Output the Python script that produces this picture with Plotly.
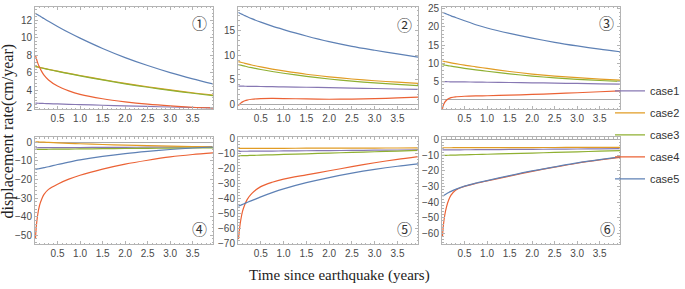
import plotly.graph_objects as go
from plotly.subplots import make_subplots

# time grid (years)
T = [0.01, 0.03, 0.06, 0.1, 0.15, 0.2, 0.3, 0.5, 0.75, 1.0, 1.5, 2.0, 2.5, 3.0, 3.5, 3.95]

case_names = ["case1", "case2", "case3", "case4", "case5"]
case_colors = ["#8778B3", "#E19C24", "#8FB032", "#EB6235", "#5E81B5"]

# Panel 1
p1_case1 = [2.50, 2.50, 2.49, 2.48, 2.47, 2.46, 2.44, 2.41, 2.37, 2.33, 2.26, 2.19, 2.12, 2.06, 2.00, 1.95]
p1_case2 = [6.70, 6.68, 6.65, 6.60, 6.54, 6.48, 6.37, 6.16, 5.90, 5.66, 5.19, 4.76, 4.37, 4.02, 3.69, 3.43]
p1_case3 = [6.68, 6.66, 6.63, 6.58, 6.52, 6.46, 6.35, 6.13, 5.87, 5.62, 5.15, 4.71, 4.32, 3.96, 3.63, 3.36]
p1_case4 = [8.0, 7.6, 7.1, 6.6, 6.1, 5.7, 5.15, 4.45, 3.9, 3.5, 3.0, 2.65, 2.38, 2.18, 2.03, 1.95]
p1_case5 = [12.77, 12.70, 12.60, 12.48, 12.32, 12.17, 11.86, 11.27, 10.57, 9.93, 8.75, 7.71, 6.80, 5.99, 5.28, 4.70]

# Panel 2
p2_case1 = [3.70, 3.70, 3.69, 3.69, 3.68, 3.67, 3.66, 3.63, 3.59, 3.55, 3.47, 3.39, 3.31, 3.22, 3.12, 3.03]
p2_case2 = [8.68, 8.62, 8.55, 8.45, 8.33, 8.22, 8.0, 7.6, 7.17, 6.8, 6.12, 5.6, 5.15, 4.8, 4.5, 4.28]
p2_case3 = [8.08, 8.03, 7.96, 7.87, 7.76, 7.65, 7.45, 7.08, 6.67, 6.32, 5.68, 5.15, 4.72, 4.36, 4.05, 3.82]
p2_case4 = [-0.3, 0.0, 0.25, 0.5, 0.72, 0.87, 1.03, 1.17, 1.2, 1.18, 1.1, 1.04, 1.06, 1.15, 1.3, 1.45]
p2_case5 = [18.65, 18.55, 18.42, 18.25, 18.03, 17.82, 17.42, 16.7, 15.9, 15.2, 13.9, 12.75, 11.8, 11.0, 10.25, 9.6]

# Panel 3
p3_case1 = [4.90, 4.90, 4.89, 4.89, 4.88, 4.87, 4.86, 4.83, 4.79, 4.75, 4.67, 4.59, 4.50, 4.41, 4.31, 4.22]
p3_case2 = [10.6, 10.54, 10.45, 10.35, 10.22, 10.1, 9.87, 9.45, 9.0, 8.55, 7.7, 7.0, 6.45, 6.0, 5.62, 5.35]
p3_case3 = [9.6, 9.55, 9.48, 9.39, 9.28, 9.17, 8.96, 8.58, 8.16, 7.78, 7.05, 6.45, 5.95, 5.55, 5.22, 5.0]
p3_case4 = [-2.6, -1.6, -0.8, -0.2, 0.25, 0.5, 0.72, 0.88, 0.97, 1.03, 1.18, 1.38, 1.6, 1.85, 2.12, 2.38]
p3_case5 = [24.0, 23.9, 23.75, 23.55, 23.3, 23.05, 22.6, 21.7, 20.6, 19.7, 18.2, 16.9, 15.75, 14.75, 13.85, 13.15]

# Panel 4
p4_case1 = [-2.85, -2.85, -2.85, -2.84, -2.84, -2.83, -2.82, -2.80, -2.77, -2.74, -2.68, -2.62, -2.56, -2.5, -2.45, -2.4]
p4_case2 = [0.35, 0.33, 0.3, 0.25, 0.2, 0.14, 0.03, -0.2, -0.45, -0.7, -1.1, -1.45, -1.75, -2.0, -2.2, -2.35]
p4_case3 = [-3.75, -3.75, -3.74, -3.73, -3.72, -3.71, -3.68, -3.63, -3.57, -3.5, -3.38, -3.27, -3.17, -3.08, -3.0, -2.93]
p4_case4 = [-52, -45, -39, -34, -30.5, -28, -25.3, -22.5, -19.8, -17.7, -14.4, -11.7, -9.6, -7.8, -6.5, -5.6]
p4_case5 = [-14.5, -14.4, -14.3, -14.1, -13.85, -13.6, -13.1, -11.9, -10.6, -9.4, -7.5, -6.0, -4.8, -3.8, -3.0, -2.45]

# Panel 5
p5_case1 = [-8.8, -8.8, -8.79, -8.78, -8.77, -8.76, -8.74, -8.7, -8.64, -8.58, -8.45, -8.33, -8.2, -8.07, -7.93, -7.8]
p5_case2 = [-6.9, -6.9, -6.9, -6.89, -6.89, -6.88, -6.87, -6.85, -6.83, -6.8, -6.76, -6.72, -6.68, -6.64, -6.6, -6.57]
p5_case3 = [-11.8, -11.78, -11.75, -11.72, -11.67, -11.62, -11.53, -11.35, -11.12, -10.9, -10.45, -10.0, -9.55, -9.1, -8.65, -8.25]
p5_case4 = [-67, -61, -54.5, -48.5, -44, -40.8, -36.8, -32.2, -29.3, -27.2, -24.4, -21.7, -19.0, -16.4, -14.1, -12.3]
p5_case5 = [-45.1, -44.9, -44.5, -44.0, -43.3, -42.7, -41.5, -39.0, -36.2, -33.7, -29.6, -26.2, -23.3, -20.8, -18.7, -17.1]

# Panel 6
p6_case1 = [-6.6, -6.6, -6.59, -6.58, -6.57, -6.56, -6.54, -6.5, -6.45, -6.4, -6.3, -6.2, -6.1, -6.0, -5.9, -5.8]
p6_case2 = [-5.2, -5.2, -5.2, -5.2, -5.19, -5.19, -5.18, -5.17, -5.15, -5.13, -5.1, -5.07, -5.04, -5.0, -4.97, -4.95]
p6_case3 = [-10.1, -10.08, -10.06, -10.03, -9.99, -9.95, -9.87, -9.72, -9.53, -9.35, -8.98, -8.6, -8.2, -7.8, -7.4, -7.0]
p6_case4 = [-62, -55, -48.5, -43, -38.5, -35.5, -32.3, -29.9, -28.0, -26.4, -23.3, -20.3, -17.6, -15.1, -13.0, -11.3]
p6_case5 = [-36, -35.8, -35.3, -34.6, -33.8, -33.1, -31.8, -29.7, -27.8, -26.2, -23.0, -20.0, -17.4, -14.9, -12.8, -11.1]

panels = [
    [p1_case1, p1_case2, p1_case3, p1_case4, p1_case5],
    [p2_case1, p2_case2, p2_case3, p2_case4, p2_case5],
    [p3_case1, p3_case2, p3_case3, p3_case4, p3_case5],
    [p4_case1, p4_case2, p4_case3, p4_case4, p4_case5],
    [p5_case1, p5_case2, p5_case3, p5_case4, p5_case5],
    [p6_case1, p6_case2, p6_case3, p6_case4, p6_case5],
]
panel_labels = ["①", "②", "③", "④", "⑤", "⑥"]
y_ranges = [[1.8, 13.5], [-1.0, 19.8], [-2.7, 25.5], [-55, 2.8], [-70.5, 0.5], [-67, 1.5]]
y_dticks = [2, 5, 5, 10, 10, 10]
x_ticks = [0.5, 1.0, 1.5, 2.0, 2.5, 3.0, 3.5]

W, H = 685, 289
col_px = [(35, 213), (238, 418), (442, 620)]
row_px = [(2, 108), (137, 248)]
label_px = [(200, 18), (404, 20), (606, 18), (200, 232), (404, 232), (607, 232)]

fig = make_subplots(rows=2, cols=3)

frame_col = "#b4b4b4"
tick_font = dict(family="Liberation Sans, Arial, sans-serif", size=10, color="#4a4a4a")

for i, series in enumerate(panels):
    r, c = divmod(i, 3)
    for k, ys in enumerate(series):
        fig.add_trace(go.Scatter(
            x=T, y=ys, mode="lines", name=case_names[k],
            line=dict(color=case_colors[k], width=1.2, shape="spline", smoothing=0.8),
            showlegend=(i == 0), legendgroup=case_names[k]),
            row=r + 1, col=c + 1)
    x0, x1 = col_px[c]
    y0, y1 = row_px[r]
    axn = "" if i == 0 else str(i + 1)
    fig.layout["xaxis" + axn].update(
        domain=[x0 / W, x1 / W], range=[0, 3.95], tickvals=x_ticks,
        ticktext=[f"{v:.1f}" for v in x_ticks],
        ticks="inside", ticklen=3, tickcolor=frame_col, mirror="allticks",
        showline=True, linecolor=frame_col, linewidth=1, showgrid=False,
        zeroline=False, tickfont=tick_font,
        minor=dict(dtick=0.1, ticks="inside", ticklen=1.5, tickcolor=frame_col))
    fig.layout["yaxis" + axn].update(
        domain=[1 - y1 / H, 1 - y0 / H], range=y_ranges[i], dtick=y_dticks[i],
        ticks="inside", ticklen=3, tickcolor=frame_col, mirror="allticks",
        showline=True, linecolor=frame_col, linewidth=1, showgrid=False,
        zeroline=True, zerolinecolor="#aaaaaa", zerolinewidth=1, tickfont=tick_font,
        minor=dict(dtick=y_dticks[i] / 5, ticks="inside", ticklen=1.5, tickcolor=frame_col))
    lx, ly = label_px[i]
    fig.add_annotation(x=lx / W, y=1 - ly / H, xref="paper", yref="paper",
                       xanchor="center", yanchor="middle",
                       text=panel_labels[i], showarrow=False,
                       font=dict(family="Noto Sans CJK JP", size=15, color="#333333"))

fig.add_annotation(x=339 / W, y=1 - 280 / H, xref="paper", yref="paper",
                   xanchor="center", yanchor="middle",
                   text="Time since earthquake (years)", showarrow=False,
                   font=dict(family="Liberation Serif, Times New Roman, serif", size=15, color="#222222"))
fig.add_annotation(x=8 / W, y=1 - 131 / H, xref="paper", yref="paper",
                   xanchor="center", yanchor="middle",
                   text="displacement rate(cm/year)", showarrow=False, textangle=-90,
                   font=dict(family="Liberation Serif, Times New Roman, serif", size=16, color="#222222"))

fig.update_layout(
    width=W, height=H, margin=dict(l=0, r=0, t=0, b=0),
    paper_bgcolor="white", plot_bgcolor="white",
    legend=dict(x=1, y=1 - 74 / H, xanchor="right", yanchor="top",
                font=dict(family="Liberation Sans, Arial, sans-serif", size=11, color="#333333"),
                tracegroupgap=3, bgcolor="rgba(0,0,0,0)", borderwidth=0),
)

fig.write_html("out.html",
               config={"displayModeBar": False},
               post_script="document.body.style.margin='0';document.body.style.overflow='hidden';")
